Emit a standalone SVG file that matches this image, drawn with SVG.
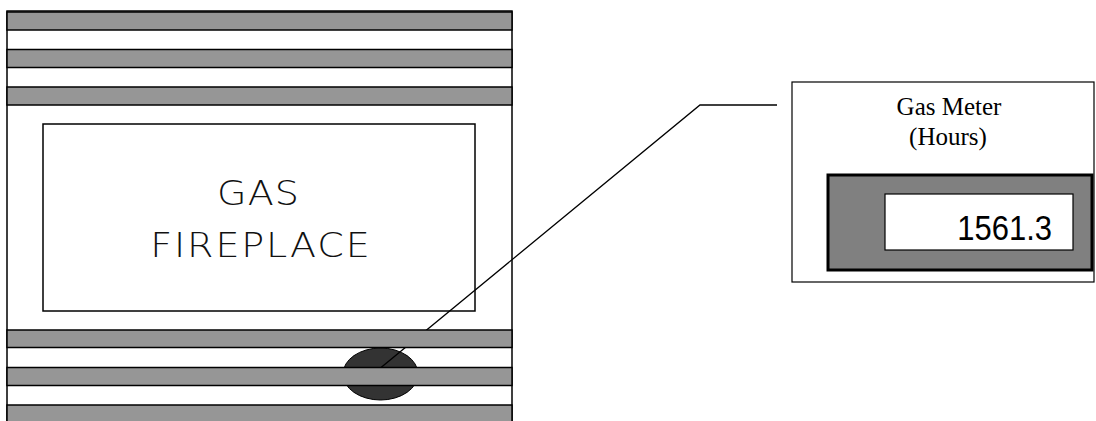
<svg xmlns="http://www.w3.org/2000/svg" width="1096" height="421" viewBox="0 0 1096 421">
<style>
.stripe{fill:#969696;stroke:#000;stroke-width:1.5}
.box{fill:#fff;stroke:#000;stroke-width:1.5}
.conn{fill:none;stroke:#000;stroke-width:1.3}
.title{font-family:"DejaVu Sans","Liberation Sans",Arial,sans-serif;font-weight:200;font-size:34px;fill:#111;text-anchor:middle}
.lbl{font-family:"Liberation Serif","Times New Roman",serif;font-size:25px;fill:#000;text-anchor:middle}
.num{font-family:"Liberation Sans",Arial,sans-serif;font-size:31px;fill:#000;text-anchor:end}
</style>
<rect width="1096" height="421" fill="#fff"/>
<g id="fireplace">
<rect x="7" y="11" width="505" height="420" fill="#fff" stroke="#000" stroke-width="1.5"/>
<ellipse id="valve" cx="380.5" cy="374" rx="37.5" ry="26" fill="#333" stroke="#000" stroke-width="1"/>
<rect x="43" y="124" width="432" height="187" class="box"/>
<text class="title" transform="translate(258,205) scale(1.12,1)" textLength="73" lengthAdjust="spacing">GAS</text>
<text class="title" transform="translate(260,257) scale(1.12,1)" textLength="196" lengthAdjust="spacing">FIREPLACE</text>
</g>
<g id="connectors">
<path class="conn" d="M777,105 L700,105 L378,370"/>
</g>
<g id="stripes">
<rect class="stripe" x="7" y="12" width="505" height="18"/>
<rect class="stripe" x="7" y="49.5" width="505" height="18"/>
<rect class="stripe" x="7" y="87" width="505" height="18"/>
<rect class="stripe" x="7" y="330" width="505" height="17.5"/>
<rect class="stripe" x="7" y="367.5" width="505" height="18"/>
<rect class="stripe" x="7" y="405" width="505" height="30"/>
</g>
<g id="gas-meter">
<rect x="792" y="82" width="302" height="200" fill="#fff" stroke="#000" stroke-width="1.2"/>
<text class="lbl" x="949" y="115">Gas Meter</text>
<text class="lbl" x="948" y="145">(Hours)</text>
<rect x="828" y="175" width="264" height="95" fill="#808080" stroke="#000" stroke-width="3"/>
<rect x="885" y="194" width="188" height="56" fill="#fff" stroke="#000" stroke-width="1.2"/>
<text class="num" transform="translate(1052,240) scale(1,1.15)">1561.3</text>
</g>
</svg>
